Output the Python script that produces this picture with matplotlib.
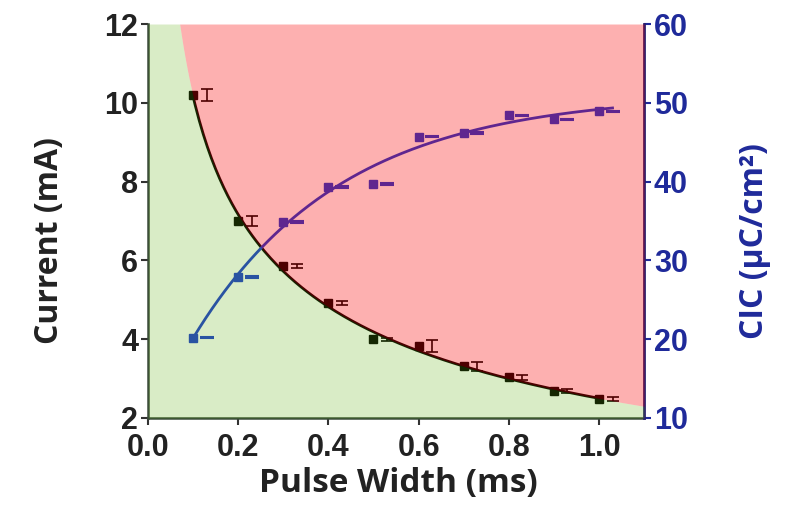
import numpy as np
import matplotlib
matplotlib.use("Agg")
import matplotlib.pyplot as plt

# datos
pulse_width = [0.1, 0.2, 0.3, 0.4, 0.5, 0.6, 0.7, 0.8, 0.9, 1.0]
current = [10.2, 7.0, 5.85, 4.93, 4.0, 3.82, 3.31, 3.03, 2.68, 2.48]
current_err = [0.15, 0.12, 0.05, 0.05, 0.04, 0.15, 0.12, 0.06, 0.05, 0.05]
cic = [20.2, 27.9, 34.9, 39.3, 39.7, 45.7, 46.2, 48.4, 47.9, 48.9]
cic_err = [0.1, 0.1, 0.1, 0.1, 0.1, 0.1, 0.1, 0.1, 0.1, 0.1]

x_ticks = [0.0, 0.2, 0.4, 0.6, 0.8, 1.0]
left_ticks = [2, 4, 6, 8, 10, 12]
right_ticks = [10, 20, 30, 40, 50, 60]

navy = "#1f2a9a"
blue = "#1a38d0"

x = np.array(pulse_width)


def fit_power_offset(xv, yv):
    # y = c + a * x**b, busca b en una rejilla y resuelve a, c por minimos cuadrados
    best = None
    for b in np.linspace(-2.0, -0.05, 400):
        A = np.column_stack([np.ones_like(xv), xv ** b])
        coef, _, _, _ = np.linalg.lstsq(A, yv, rcond=None)
        err = np.sum((A @ coef - yv) ** 2)
        if best is None or err < best[0]:
            best = (err, coef[0], coef[1], b)
    _, c, a, b = best
    return lambda t: c + a * t ** b


def fit_saturation(xv, yv):
    # y = A - B * exp(-x / tau)
    best = None
    for tau in np.linspace(0.05, 2.0, 400):
        M = np.column_stack([np.ones_like(xv), -np.exp(-xv / tau)])
        coef, _, _, _ = np.linalg.lstsq(M, yv, rcond=None)
        err = np.sum((M @ coef - yv) ** 2)
        if best is None or err < best[0]:
            best = (err, coef[0], coef[1], tau)
    _, A0, B0, tau = best
    return lambda t: A0 - B0 * np.exp(-t / tau)


f_cur = fit_power_offset(x, np.array(current))
f_cic = fit_saturation(x, np.array(cic))

fig = plt.figure(figsize=(7.85, 5.13), dpi=100)
ax = fig.add_axes([0.1885, 0.1852, 0.632, 0.768])
ax2 = ax.twinx()

xf = np.linspace(0.1, 1.0, 200)
ax.plot(xf, f_cur(xf), color="black", lw=2, zorder=3)
ax.plot(x, current, "s", color="black", ms=5.5, zorder=4)
ax.errorbar(x + 0.03, current, yerr=current_err, fmt="none", ecolor="black",
            elinewidth=1.2, capsize=4, capthick=1.2, zorder=4)

xf2 = np.linspace(0.1, 1.03, 200)
ax2.plot(xf2, f_cic(xf2), color=blue, lw=2, zorder=3)
ax2.plot(x, cic, "s", color=blue, ms=5.5, zorder=4)
ax2.errorbar(x + 0.03, cic, yerr=cic_err, fmt="none", ecolor=blue,
             elinewidth=1.2, capsize=5, capthick=1.5, zorder=4)

# zonas coloreadas encima (semitransparentes)
xs = np.linspace(0.0005, 1.1, 600)
bound = np.clip(f_cur(xs), 2, 12)
ax2.fill_between(xs, 2, bound, color=(0.36, 0.68, 0.04), alpha=0.23, lw=0,
                 transform=ax.transData, zorder=10)
ax2.fill_between(xs, bound, 12, color=(0.98, 0.0, 0.0), alpha=0.31, lw=0,
                 transform=ax.transData, zorder=10)

ax.set_xlim(0, 1.1)
ax.set_ylim(2, 12)
ax2.set_ylim(10, 60)
ax.set_xticks(x_ticks)
ax.set_yticks(left_ticks)
ax2.set_yticks(right_ticks)

tick_font = {"family": "Liberation Sans", "weight": "bold", "size": 22}
ax.set_xticklabels(["%.1f" % t for t in x_ticks], fontdict=tick_font)
ax.set_yticklabels([str(t) for t in left_ticks], fontdict=tick_font)
ax2.set_yticklabels([str(t) for t in right_ticks], fontdict=tick_font)

ax.tick_params(axis="x", direction="out", length=5, width=1.5, pad=6, colors="#333333")
ax.tick_params(axis="y", direction="out", length=5, width=1.5, pad=2, colors="#333333")
ax2.tick_params(axis="y", direction="out", length=5, width=1.5, pad=2, colors=navy)
for lab in ax.get_xticklabels() + ax.get_yticklabels():
    lab.set_color("#222222")
for lab in ax2.get_yticklabels():
    lab.set_color(navy)

for s in ["left", "bottom"]:
    ax.spines[s].set_linewidth(1.8)
    ax.spines[s].set_color("#3a4a3a")
ax2.spines["right"].set_linewidth(2)
ax2.spines["right"].set_color("#2a1f6e")
for s in ["left", "top", "bottom"]:
    ax2.spines[s].set_visible(False)
ax.spines["right"].set_visible(False)
ax.spines["top"].set_visible(False)

label_font = {"family": "Open Sans", "weight": "bold", "size": 24}
ylabel_font = {"family": "Open Sans", "weight": "bold", "size": 23}
ax.set_xlabel("Pulse Width (ms)", fontdict=label_font, color="#222222")
ax.set_ylabel("Current (mA)", fontdict=ylabel_font, color="#222222")
ax2.set_ylabel("CIC (µC/cm²)", fontdict=ylabel_font, color=navy)
ax.xaxis.set_label_coords(0.505, -0.125)
ax.yaxis.set_label_coords(-0.165, 0.45)
ax2.yaxis.set_label_coords(1.19, 0.45)

fig.savefig("out.png", dpi=100)
